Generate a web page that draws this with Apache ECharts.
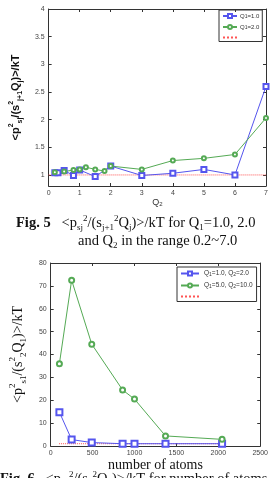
<!DOCTYPE html>
<html>
<head>
<meta charset="utf-8">
<script src="https://cdn.jsdelivr.net/npm/echarts@6/dist/echarts.min.js"></script>
<style>
  html, body { margin: 0; padding: 0; background: #fff; }
  #main { width: 271px; height: 478px; }
</style>
</head>
<body>
<div id="main"></div>
<script>
// Fig. 5 data: Q2 vs <p^2/(s^2 Q)>/kT
var q2Blue = [0.2, 0.3, 0.5, 0.8, 1.0, 1.5, 2.0, 3, 4, 5, 6, 7];
var valBlue = [1.04, 1.04, 1.08, 0.99, 1.09, 0.97, 1.16, 0.99, 1.03, 1.10, 1.00, 2.60];
var q2Green = [0.2, 0.5, 0.8, 1.0, 1.2, 1.5, 1.8, 2.0, 3, 4, 5, 6, 7];
var valGreen = [1.05, 1.06, 1.09, 1.10, 1.14, 1.10, 1.07, 1.16, 1.10, 1.26, 1.30, 1.37, 2.03];
var refX1 = [0, 7];
var refY1 = [1, 1];

// Fig. 6 data: number of atoms
var atomsBlue = [104, 250, 490, 858, 1000, 1370, 2045];
var ratioBlue = [14.8, 2.8, 1.5, 1.0, 1.0, 1.0, 1.0];
var atomsGreen = [104, 250, 490, 858, 1000, 1370, 2045];
var ratioGreen = [36, 72.5, 44.5, 24.5, 20.5, 4.4, 2.9];
var refX2 = [100, 2045];
var refY2 = [1, 1];

var yTicks1 = [1, 1.5, 2, 2.5, 3, 3.5, 4];

function pairs(xs, ys) {
	var out = [];
	for (var i = 0; i < xs.length; i++) out.push([xs[i], ys[i]]);
	return out;
}

var blue = '#5555ee';
var green = '#55aa55';
var red = '#ff5555';
var serif = '"Liberation Serif", "DejaVu Serif", serif';
var sans = '"Liberation Sans", Arial, sans-serif';

var richSmall = {
	sub: { fontSize: 5, lineHeight: 5, verticalAlign: 'bottom', fontFamily: sans, color: '#333' }
};

var legendNames = {
	'a1': 'Q{sub|1}=1.0',
	'a2': 'Q{sub|1}=2.0',
	'a3': '',
	'b1': 'Q{sub|1}=1.0, Q{sub|2}=2.0',
	'b2': 'Q{sub|1}=5.0, Q{sub|2}=10.0',
	'b3': ''
};

function axisCommon() {
	return {
		axisLine: { onZero: false, lineStyle: { color: '#333', width: 1 } },
		axisTick: { inside: true, length: 3, lineStyle: { color: '#333' } },
		axisLabel: { fontSize: 7, color: '#444', fontFamily: sans, margin: 4, formatter: function (v) { return String(v); } },
		splitLine: { show: false }
	};
}

function boxAxis(grid, pos, min, max, interval) {
	return {
		type: 'value', gridIndex: grid, position: pos, min: min, max: max, interval: interval,
		axisLine: { onZero: false, lineStyle: { color: '#333', width: 1 } },
		axisTick: { inside: true, length: 3, lineStyle: { color: '#333' } },
		axisLabel: { show: false },
		splitLine: { show: false }
	};
}

var chart = echarts.init(document.getElementById('main'));

var option = {
	backgroundColor: '#fff',
	animation: false,
	grid: [
		{ left: 35, top: 9, width: 231, height: 177 },
		{ left: 35, top: 263, width: 231, height: 183 }
	],
	xAxis: [
		Object.assign(axisCommon(), {
			type: 'value', gridIndex: 0, min: 0, max: 7, interval: 1,
			name: 'Q{sub|2}', nameLocation: 'middle', nameGap: 10,
			nameTextStyle: { fontSize: 9, color: '#333', fontFamily: sans, rich: { sub: { fontSize: 6, lineHeight: 6, verticalAlign: 'bottom', fontFamily: sans, color: '#333' } } }
		}),
		Object.assign(axisCommon(), {
			type: 'value', gridIndex: 1, min: 0, max: 2500, interval: 500,
			name: 'number of atoms', nameLocation: 'middle', nameGap: 10,
			nameTextStyle: { fontSize: 14, color: '#111', fontFamily: serif }
		}),
		boxAxis(0, 'top', 0, 7, 1),
		boxAxis(1, 'top', 0, 2500, 500)
	],
	yAxis: [
		Object.assign(axisCommon(), {
			type: 'value', gridIndex: 0, min: 0.8, max: 4,
			axisLabel: { fontSize: 7, color: '#444', fontFamily: sans, margin: 4, customValues: yTicks1 },
			axisTick: { inside: true, length: 3, lineStyle: { color: '#333' }, customValues: yTicks1 },
			name: '<p{sup|2}{sub|sj}/(s{sup|2}{sub|j+1}Q{sub|j})>/kT', nameLocation: 'middle', nameGap: 20,
			nameTextStyle: {
				fontSize: 11, fontWeight: 'bold', color: '#111', fontFamily: sans, lineHeight: 16,
				rich: {
					sup: { fontSize: 7, lineHeight: 7, verticalAlign: 'top', fontWeight: 'bold', fontFamily: sans, color: '#111' },
					sub: { fontSize: 7, lineHeight: 7, verticalAlign: 'bottom', fontWeight: 'bold', fontFamily: sans, color: '#111' }
				}
			}
		}),
		Object.assign(axisCommon(), {
			type: 'value', gridIndex: 1, min: 0, max: 80, interval: 10,
			name: '<p{sup|2}{sub|s1}/(s{sup|2}{sub|2}Q{sub|1})>/kT', nameLocation: 'middle', nameGap: 22,
			nameTextStyle: {
				fontSize: 14, color: '#111', fontFamily: serif, lineHeight: 20,
				rich: {
					sup: { fontSize: 9, lineHeight: 9, verticalAlign: 'top', fontFamily: serif, color: '#111' },
					sub: { fontSize: 9, lineHeight: 9, verticalAlign: 'bottom', fontFamily: serif, color: '#111' }
				}
			}
		}),
		boxAxis(0, 'right', 0.8, 4, null),
		boxAxis(1, 'right', 0, 80, 10)
	],
	legend: [
		{
			data: ['a1', 'a2', { name: 'a3', itemStyle: { opacity: 0 } }], orient: 'vertical', left: 219, top: 10,
			borderColor: '#333', borderWidth: 1, borderRadius: 0, padding: [3, 3, 2, 3],
			itemWidth: 14, itemHeight: 5, itemGap: 5,
			formatter: function (n) { return legendNames[n]; },
			textStyle: { fontSize: 6, color: '#333', fontFamily: sans, padding: [0, 0, 0, -2], rich: richSmall }
		},
		{
			data: ['b1', 'b2', { name: 'b3', itemStyle: { opacity: 0 } }], orient: 'vertical', left: 177, top: 267,
			borderColor: '#333', borderWidth: 1, borderRadius: 0, padding: [3, 4, 3, 3],
			itemWidth: 18, itemHeight: 5, itemGap: 5,
			formatter: function (n) { return legendNames[n]; },
			textStyle: { fontSize: 6.5, color: '#333', fontFamily: sans, rich: richSmall }
		}
	],
	series: [
		{
			name: 'a3', type: 'line', xAxisIndex: 0, yAxisIndex: 0, data: pairs(refX1, refY1),
			symbol: 'none', lineStyle: { color: red, width: 1, type: 'dotted' }, itemStyle: { color: red }
		},
		{
			name: 'a1', type: 'line', xAxisIndex: 0, yAxisIndex: 0, data: pairs(q2Blue, valBlue),
			symbol: 'emptyRect', symbolSize: 5, lineStyle: { color: blue, width: 1 }, itemStyle: { color: blue, borderWidth: 1 }
		},
		{
			name: 'a2', type: 'line', xAxisIndex: 0, yAxisIndex: 0, data: pairs(q2Green, valGreen),
			symbol: 'emptyCircle', symbolSize: 4, lineStyle: { color: green, width: 1 }, itemStyle: { color: green, borderWidth: 1 }
		},
		{
			name: 'b3', type: 'line', xAxisIndex: 1, yAxisIndex: 1, data: pairs(refX2, refY2),
			symbol: 'none', lineStyle: { color: red, width: 1, type: 'dotted' }, itemStyle: { color: red }
		},
		{
			name: 'b1', type: 'line', xAxisIndex: 1, yAxisIndex: 1, data: pairs(atomsBlue, ratioBlue),
			symbol: 'emptyRect', symbolSize: 6, lineStyle: { color: blue, width: 1 }, itemStyle: { color: blue, borderWidth: 1 }
		},
		{
			name: 'b2', type: 'line', xAxisIndex: 1, yAxisIndex: 1, data: pairs(atomsGreen, ratioGreen),
			symbol: 'emptyCircle', symbolSize: 5, lineStyle: { color: green, width: 1 }, itemStyle: { color: green, borderWidth: 1 }
		}
	],
	graphic: [
		{
			type: 'text', left: 16, top: 214,
			style: {
				text: '{b|Fig. 5}   <p{sub|sj}{sup|2}/(s{sub|j+1}{sup|2}Q{sub|j})>/kT for Q{sub|1}=1.0, 2.0',
				font: '14.5px ' + serif, fill: '#111', lineHeight: 18,
				rich: {
					b: { fontWeight: 'bold', fontSize: 14.5, fontFamily: serif, lineHeight: 18 },
					sub: { fontSize: 9, lineHeight: 9, verticalAlign: 'bottom', fontFamily: serif },
					sup: { fontSize: 9, lineHeight: 9, verticalAlign: 'top', fontFamily: serif }
				}
			}
		},
		{
			type: 'text', left: 78, top: 232,
			style: {
				text: 'and Q{sub|2} in the range 0.2~7.0',
				font: '14.5px ' + serif, fill: '#111', lineHeight: 18,
				rich: {
					sub: { fontSize: 9, lineHeight: 9, verticalAlign: 'bottom', fontFamily: serif }
				}
			}
		},
		{
			type: 'text', left: 0, top: 470,
			style: {
				text: '{b|Fig. 6}   <p{sub|s1}{sup|2}/(s{sub|2}{sup|2}Q{sub|1})>/kT for number of atoms',
				font: '14.5px ' + serif, fill: '#111', lineHeight: 18,
				rich: {
					b: { fontWeight: 'bold', fontSize: 14.5, fontFamily: serif, lineHeight: 18 },
					sub: { fontSize: 9, lineHeight: 9, verticalAlign: 'bottom', fontFamily: serif },
					sup: { fontSize: 9, lineHeight: 9, verticalAlign: 'top', fontFamily: serif }
				}
			}
		}
	]
};

chart.setOption(option);
</script>
</body>
</html>
